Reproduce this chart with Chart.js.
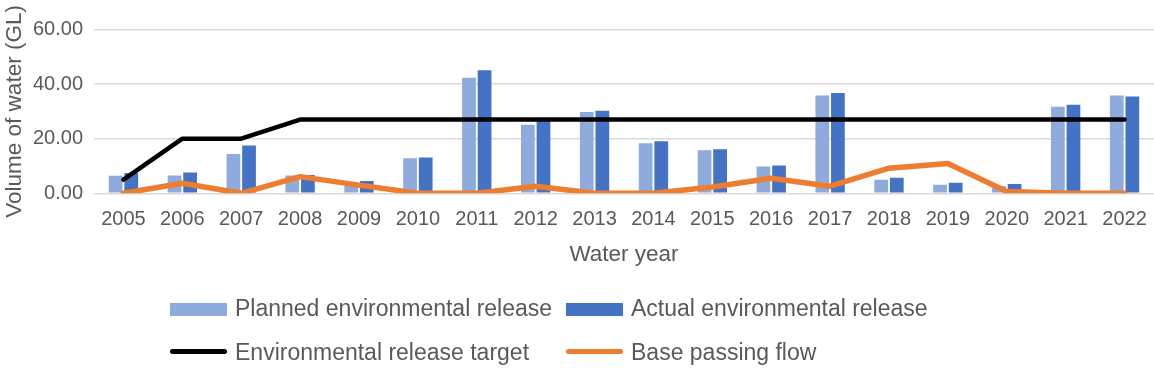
<!DOCTYPE html>
<html>
<head>
<meta charset="utf-8">
<script src="https://cdn.jsdelivr.net/npm/chart.js@4.4.1/dist/chart.umd.min.js"></script>
<style>
  html, body { margin: 0; padding: 0; background: #fff; }
  #wrap { position: relative; width: 1154px; height: 373px; }
  #legend { position: absolute; left: 0; top: 0; width: 1154px; height: 373px; pointer-events: none;
    font-family: "Liberation Sans", Arial, sans-serif; font-size: 23px; color: #595959; }
  .item { position: absolute; white-space: nowrap; line-height: 23px; }
  .sym { position: absolute; }
</style>
</head>
<body>
<div id="wrap">
  <canvas id="chart" width="1154" height="373"></canvas>
  <div id="legend"></div>
</div>
<script>
const years = ["2005", "2006", "2007", "2008", "2009", "2010", "2011", "2012", "2013",
  "2014", "2015", "2016", "2017", "2018", "2019", "2020", "2021", "2022"];

const planned = [6.4, 6.5, 14.4, 6.5, 4.0, 12.8, 42.3, 25.1, 29.8,
  18.3, 15.8, 9.8, 35.8, 5.0, 3.1, 2.7, 31.7, 35.8];

const actual = [7.4, 7.6, 17.5, 6.7, 4.5, 13.1, 45.1, 26.5, 30.2,
  19.1, 16.1, 10.2, 36.7, 5.7, 3.9, 3.4, 32.4, 35.5];

const target = [5, 20, 20, 27, 27, 27, 27, 27, 27,
  27, 27, 27, 27, 27, 27, 27, 27, 27];

const basePassing = [0, 3.7, 0, 6.1, 3.0, 0, 0, 2.6, 0,
  0, 2.3, 5.5, 2.6, 9.2, 10.9, 0.7, 0, 0];

const yTicks = [0, 20, 40, 60];

const font = "'Liberation Sans', Arial, sans-serif";
const textColor = "#595959";

Chart.defaults.font.family = font;
Chart.defaults.color = textColor;

const datasets = [
  {
    type: "line",
    label: "Base passing flow",
    data: basePassing,
    borderColor: "#ED7D31",
    backgroundColor: "#ED7D31",
    borderWidth: 5.5,
    pointRadius: 0,
    borderJoinStyle: "round",
    borderCapStyle: "round",
    order: 0,
  },
  {
    type: "line",
    label: "Environmental release target",
    data: target,
    borderColor: "#000000",
    backgroundColor: "#000000",
    borderWidth: 4.5,
    pointRadius: 0,
    borderJoinStyle: "round",
    borderCapStyle: "round",
    order: 1,
  },
  {
    type: "bar",
    label: "Planned environmental release",
    data: planned,
    backgroundColor: "#8FAADC",
    categoryPercentage: 0.53,
    barPercentage: 0.88,
    order: 2,
  },
  {
    type: "bar",
    label: "Actual environmental release",
    data: actual,
    backgroundColor: "#4472C4",
    categoryPercentage: 0.53,
    barPercentage: 0.88,
    order: 2,
  },
];

new Chart(document.getElementById("chart"), {
  type: "bar",
  data: { labels: years, datasets },
  options: {
    responsive: false,
    animation: false,
    layout: { padding: { top: 29.5, bottom: 105, right: 0, left: 0 } },
    plugins: {
      legend: { display: false },
      tooltip: { enabled: false },
    },
    scales: {
      x: {
        grid: { display: false },
        border: { display: false },
        ticks: { font: { size: 20 }, color: textColor, padding: 6 },
        title: {
          display: true,
          text: "Water year",
          font: { size: 22.5 },
          color: textColor,
          padding: { top: 0, bottom: 0 },
        },
        afterFit: (scale) => { scale.height = 74.7; },
      },
      y: {
        min: 0,
        max: 60,
        afterBuildTicks: (scale) => { scale.ticks = yTicks.map((v) => ({ value: v })); },
        grid: { color: "#D9D9D9", lineWidth: 1.5, drawTicks: false },
        border: { display: false },
        ticks: {
          font: { size: 20 },
          color: textColor,
          padding: 11,
          callback: (v) => Number(v).toFixed(2),
        },
        title: {
          display: true,
          text: "Volume of water (GL)",
          font: { size: 22.5 },
          color: textColor,
          padding: { top: 1, bottom: 0 },
        },
        afterFit: (scale) => { scale.width = 94; },
      },
    },
  },
});

// two-row legend like the original
const legendItems = [
  { label: "Planned environmental release", color: "#8FAADC", kind: "box", x: 170, y: 296.5 },
  { label: "Actual environmental release", color: "#4472C4", kind: "box", x: 566, y: 296.5 },
  { label: "Environmental release target", color: "#000000", kind: "line", x: 170, y: 340.5 },
  { label: "Base passing flow", color: "#ED7D31", kind: "line", x: 566, y: 340.5 },
];
const legend = document.getElementById("legend");
legendItems.forEach((it) => {
  const sym = document.createElement("div");
  sym.className = "sym";
  sym.style.background = it.color;
  sym.style.left = it.x + "px";
  sym.style.width = "57px";
  if (it.kind === "box") {
    sym.style.top = (it.y + 6) + "px";
    sym.style.height = "13px";
  } else {
    sym.style.top = (it.y + 8) + "px";
    sym.style.height = "5px";
    sym.style.borderRadius = "3px";
  }
  legend.appendChild(sym);
  const txt = document.createElement("div");
  txt.className = "item";
  txt.textContent = it.label;
  txt.style.left = (it.x + 65) + "px";
  txt.style.top = it.y + "px";
  legend.appendChild(txt);
});
</script>
</body>
</html>
